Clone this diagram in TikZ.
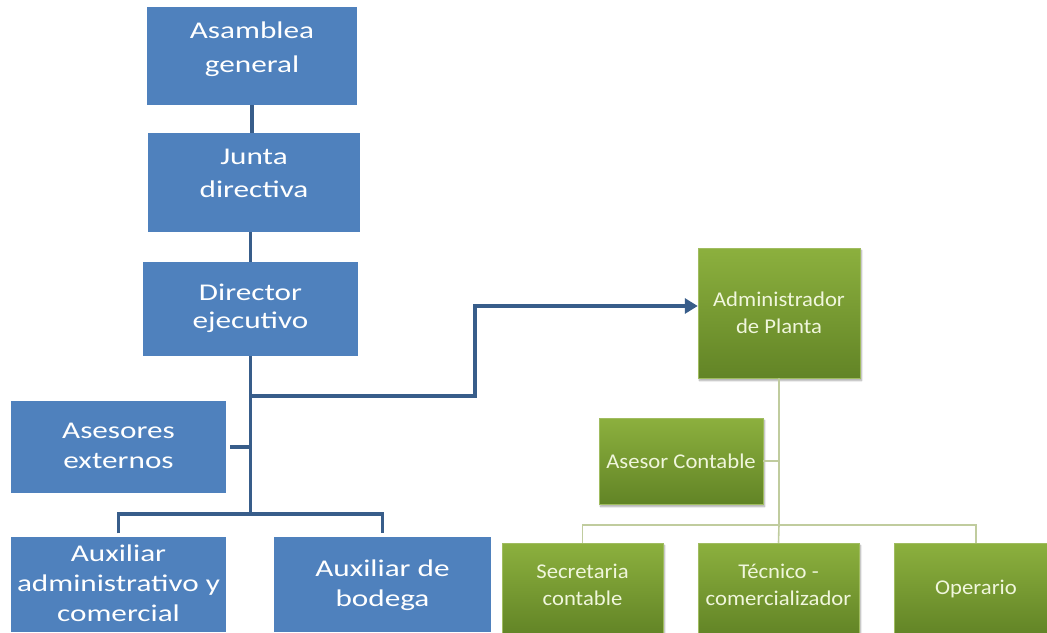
\documentclass[tikz,border=0pt]{standalone}
\usepackage{fontspec}
\usetikzlibrary{arrows.meta,shadows.blur}
\newfontfamily\bluefont[FakeStretch=1.3]{Carlito}
\newfontfamily\greenfont[FakeStretch=1.08]{Carlito}
\newcommand\boxtext[3]{\raisebox{#1}[\height][\depth]{\fontsize{24}{#2}\selectfont\begin{tabular}{@{}c@{}}#3\end{tabular}}}
\newcommand\gboxtext[2]{\raisebox{#1}[\height][\depth]{\begin{tabular}{@{}c@{}}#2\end{tabular}}}
\definecolor{boxblue}{RGB}{79,129,189}
\definecolor{lineblue}{RGB}{56,93,138}
\definecolor{greentop}{RGB}{140,176,62}
\definecolor{greenbot}{RGB}{98,132,38}
\definecolor{greenedge}{RGB}{160,188,96}
\definecolor{greenline}{RGB}{192,204,158}
\definecolor{greentext}{RGB}{240,246,220}
\tikzset{
  bluebox/.style={fill=boxblue, text=white, align=center, inner sep=0pt,
    font=\bluefont\fontsize{24}{34}\selectfont},
  greenbox/.style={top color=greentop, bottom color=greenbot, draw=greenedge, line width=0.5pt,
    text=greentext, align=center, inner sep=0pt,
    font=\greenfont\fontsize{21}{27}\selectfont,
    blur shadow={shadow blur steps=6, shadow xshift=1.5pt, shadow yshift=-2.5pt, shadow opacity=35}},
  blueline/.style={draw=lineblue, line width=3.2pt},
  greenline/.style={draw=greenline, line width=1.6pt},
}
\begin{document}
\begin{tikzpicture}[x=1pt,y=-1pt]
\useasboundingbox (0,0) rectangle (1047,632);
\clip (0,0) rectangle (1047,632);
% blue boxes
\node[bluebox, minimum width=210pt, minimum height=98pt] (asamblea) at (252,56) {\boxtext{7pt}{34}{Asamblea\\general}};
\node[bluebox, minimum width=212pt, minimum height=99pt] (junta) at (254,182.5) {\boxtext{8pt}{33}{Junta\\directiva}};
\node[bluebox, minimum width=215pt, minimum height=94pt] (director) at (250.5,309) {\boxtext{0pt}{28.5}{Director\\ejecutivo}};
\node[bluebox, minimum width=215pt, minimum height=92pt] (asesores) at (118.5,447) {\boxtext{0pt}{30}{Asesores\\externos}};
\node[bluebox, minimum width=215pt, minimum height=95pt] (aux1) at (118.5,584) {\boxtext{-1pt}{30}{Auxiliar\\administrativo y\\comercial}};
\node[bluebox, minimum width=217pt, minimum height=95pt] (aux2) at (382.5,584) {\boxtext{-1pt}{30}{Auxiliar de\\bodega}};
% green boxes
\node[greenbox, minimum width=162pt, minimum height=130pt] (admin) at (779,313) {Administrador\\de Planta};
\node[greenbox, minimum width=164pt, minimum height=86pt] (asesorc) at (681,461) {Asesor Contable};
\node[greenbox, minimum width=161pt, minimum height=92pt] (secre) at (582.5,589) {\gboxtext{2pt}{Secretaria\\contable}};
\node[greenbox, minimum width=161pt, minimum height=92pt] (tecnico) at (778.5,589) {\gboxtext{2pt}{Técnico -\\comercializador}};
\node[greenbox, minimum width=164pt, minimum height=92pt] (operario) at (976,589) {Operario};
% blue connectors
\coordinate (trunkB) at (250.5,514);
\coordinate (arrStart) at (250.5,396);
\coordinate (bend) at (475,396);
\draw[blueline] (asamblea.south) -- (asamblea.south |- junta.north);
\draw[blueline] (junta.south -| director.north) -- (director.north);
\draw[blueline] (director.south) -- (trunkB);
\draw[blueline] ([xshift=4pt]asesores.east) -- (asesores.east -| director.south);
\draw[blueline, shorten <=3pt, shorten >=3pt] (aux1.north) |- (trunkB) -| (aux2.north);
\draw[blueline, -{Triangle[length=13pt,width=15pt]}] (arrStart) -- (bend) |- ([yshift=7pt]admin.west);
% green connectors
\coordinate (trunkG) at (779,525);
\draw[greenline] (admin.south) -- (trunkG) -- (tecnico.north);
\draw[greenline] (asesorc.east) -- (asesorc.east -| admin.south);
\draw[greenline] (secre.north) |- (trunkG) -| (operario.north);
\end{tikzpicture}
\end{document}
